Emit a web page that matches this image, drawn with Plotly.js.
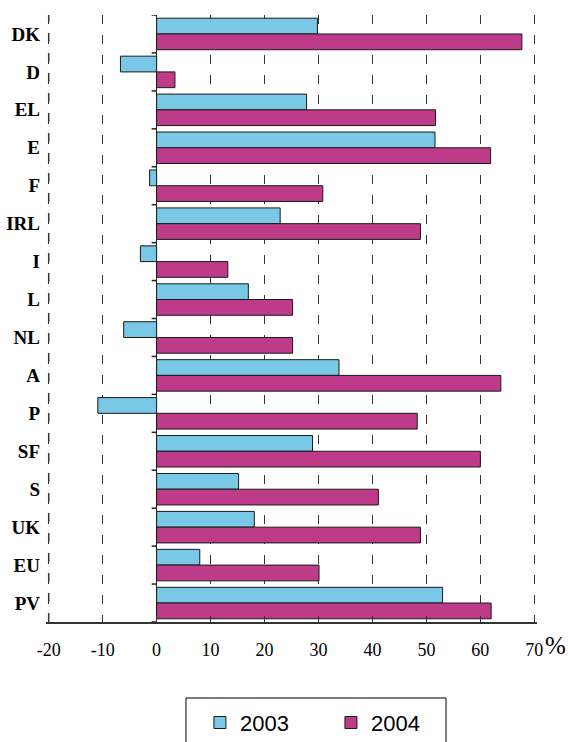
<!DOCTYPE html>
<html>
<head>
<meta charset="utf-8">
<script src="https://cdn.plot.ly/plotly-3.0.1.min.js"></script>
<style>html,body{margin:0;padding:0;background:#fff;}#chart{width:568px;height:742px;}</style>
</head>
<body>
<div id="chart"></div>
<script>
var categories = ['DK','D','EL','E','F','IRL','I','L','NL','A','P','SF','S','UK','EU','PV'];
var values2003 = [29.8,-6.7,27.8,51.6,-1.3,22.9,-3.0,17.0,-6.1,33.8,-10.9,28.9,15.2,18.1,8.0,53.0];
var values2004 = [67.7,3.4,51.7,61.9,30.8,48.9,13.2,25.2,25.2,63.8,48.3,60.0,41.1,48.9,30.1,62.0];
var xTickVals = [-20,-10,0,10,20,30,40,50,60,70];
var xTickText = ['-20','-10','0','10','20','30','40','50','60','70'];
var seriesNames = ['2003','2004'];

var serif = 'Liberation Serif, Times New Roman, serif';
var xMin = xTickVals[0], xMax = xTickVals[xTickVals.length - 1];
var pad = 0.5;

var shapes = [];
// dashed gridline at the left edge value (Plotly drops it next to the plot edge)
shapes.push({type:'line', xref:'x', yref:'paper', x0:xMin, x1:xMin, y0:0, y1:1,
             layer:'above', line:{color:'#333', width:1.5, dash:'9px,11px'}});
// category-boundary tick marks on the zero line (pointing left)
for (var i = 0; i <= categories.length; i++) {
  shapes.push({type:'line', xref:'x', yref:'y', xsizemode:'pixel', xanchor:0,
               x0:-5, x1:0, y0:i - 0.5, y1:i - 0.5,
               line:{color:'#222', width:1.5}});
}
// legend frame (extends past the bottom of the picture, as in the reference)
shapes.push({type:'rect', xref:'paper', yref:'paper',
             x0:0.2851, x1:0.8147, y0:-0.1252, y1:-0.24,
             line:{color:'#000', width:1}, fillcolor:'rgba(0,0,0,0)'});

var traces = [
  {type:'bar', orientation:'h', name:seriesNames[0], y:categories, x:values2003,
   marker:{color:'#78c8e6', line:{color:'#1a1a1a', width:1}}},
  {type:'bar', orientation:'h', name:seriesNames[1], y:categories, x:values2004,
   marker:{color:'#be3b89', line:{color:'#1a1a1a', width:1}}}
];

var layout = {
  width:568, height:742,
  margin:{l:46, r:31, t:15, b:120, pad:0},
  paper_bgcolor:'#fff', plot_bgcolor:'#fff',
  barmode:'group', bargap:0.17, bargroupgap:0,
  showlegend:true,
  legend:{orientation:'h', xref:'container', yref:'container',
          x:0.352, xanchor:'left', y:0.026, yanchor:'middle',
          borderwidth:0, bgcolor:'rgba(0,0,0,0)',
          font:{family:'Liberation Sans, Arial, sans-serif', size:22, color:'#000'},
          itemwidth:30, entrywidth:86, entrywidthmode:'pixels', traceorder:'normal'},
  xaxis:{range:[xMin - pad, xMax + pad], tickvals:xTickVals, ticktext:xTickText,
         showgrid:true, gridcolor:'#333', gridwidth:1.5, griddash:'9px,11px',
         zeroline:true, zerolinecolor:'#222', zerolinewidth:1.5,
         showline:true, linecolor:'#333', linewidth:1.5,
         ticks:'inside', ticklen:6, tickcolor:'#333', tickwidth:1.5,
         ticklabelstandoff:11,
         tickfont:{family:serif, size:18, color:'#000'},
         fixedrange:true},
  yaxis:{type:'category', categoryorder:'array', categoryarray:categories,
         range:[categories.length - 0.5, -0.5],
         showgrid:false, zeroline:false, showline:false, ticks:'',
         ticklabelstandoff:5,
         tickfont:{family:serif, size:19, color:'#000', weight:'bold'},
         fixedrange:true},
  shapes:shapes,
  annotations:[{xref:'x', yref:'paper', x:xMax, y:0, xanchor:'left', yanchor:'top',
                xshift:9, yshift:-8, text:'%', showarrow:false,
                font:{family:serif, size:25, color:'#000'}}]
};

Plotly.newPlot('chart', traces, layout, {displayModeBar:false, staticPlot:true});
</script>
</body>
</html>
